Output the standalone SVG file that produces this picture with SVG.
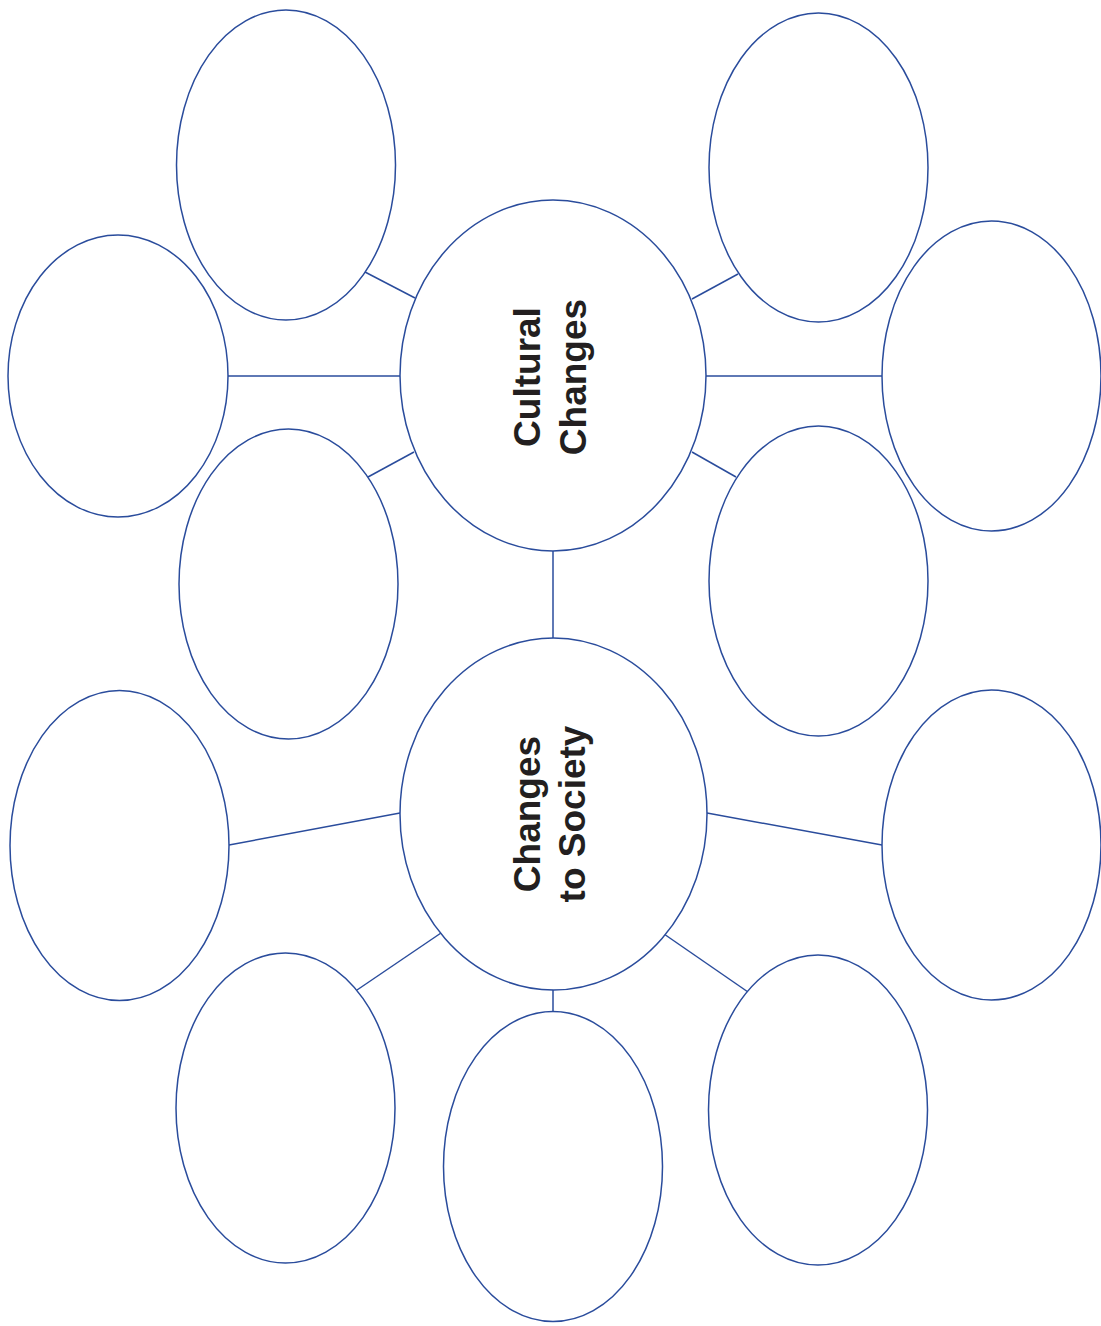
<svg xmlns="http://www.w3.org/2000/svg" width="1101" height="1326" viewBox="0 0 1101 1326">
<style>
.n{fill:#fff;stroke:#2a4c9c;stroke-width:1.5}
.c line{stroke:#2a4c9c;stroke-width:1.5}
.t{font-family:"Liberation Sans",Arial,sans-serif;font-weight:bold;font-size:37px;fill:#231f20;text-anchor:middle}
</style>
<rect width="1101" height="1326" fill="#fff"/>
<g id="connectors" class="c">
<line x1="365" y1="272" x2="415" y2="298"/>
<line x1="228" y1="376" x2="400" y2="376"/>
<line x1="368" y1="477" x2="414" y2="452"/>
<line x1="692" y1="299" x2="738" y2="274"/>
<line x1="706" y1="376" x2="882" y2="376"/>
<line x1="692" y1="452" x2="736" y2="477"/>
<line x1="553" y1="551" x2="553" y2="638"/>
<line x1="229" y1="845" x2="400" y2="813"/>
<line x1="707" y1="813" x2="882" y2="845"/>
<line x1="357" y1="990" x2="441" y2="933"/>
<line x1="664" y1="934" x2="748" y2="992"/>
<line x1="553" y1="989" x2="553" y2="1012"/>
</g>
<g id="n-tl"><ellipse class="n" cx="286" cy="165" rx="109.5" ry="155"/></g>
<g id="n-ml"><ellipse class="n" cx="118" cy="376" rx="110" ry="141"/></g>
<g id="n-ll"><ellipse class="n" cx="288.5" cy="584" rx="109.5" ry="155"/></g>
<g id="n-tr"><ellipse class="n" cx="818.5" cy="167.5" rx="109.5" ry="154.5"/></g>
<g id="n-mr"><ellipse class="n" cx="991.5" cy="376" rx="109.5" ry="155"/></g>
<g id="n-lr"><ellipse class="n" cx="818.5" cy="581" rx="109.5" ry="155"/></g>
<g id="cultural">
<ellipse class="n" cx="553" cy="375.5" rx="153" ry="175.5"/>
<text class="t" transform="translate(540,377) rotate(-90)">Cultural</text>
<text class="t" transform="translate(586,377) rotate(-90)">Changes</text>
</g>
<g id="society">
<ellipse class="n" cx="553.5" cy="814" rx="153.5" ry="176"/>
<text class="t" transform="translate(540,814) rotate(-90)">Changes</text>
<text class="t" transform="translate(585,814) rotate(-90)">to Society</text>
</g>
<g id="n-bl1"><ellipse class="n" cx="119.5" cy="845.5" rx="109.5" ry="155"/></g>
<g id="n-bl2"><ellipse class="n" cx="285.5" cy="1108" rx="109.5" ry="155"/></g>
<g id="n-bc"><ellipse class="n" cx="553" cy="1166.5" rx="109.5" ry="155"/></g>
<g id="n-br"><ellipse class="n" cx="818" cy="1110" rx="109.5" ry="155"/></g>
<g id="n-rb"><ellipse class="n" cx="991.5" cy="845" rx="109.5" ry="155"/></g>
</svg>
